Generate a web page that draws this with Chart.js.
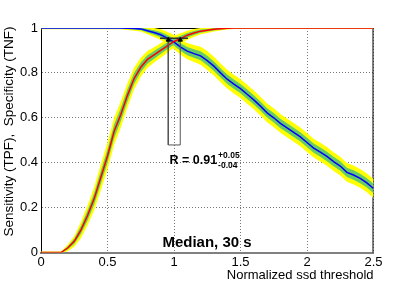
<!DOCTYPE html>
<html>
<head>
<meta charset="utf-8">
<script src="https://cdn.jsdelivr.net/npm/chart.js@4.4.0/dist/chart.umd.min.js"></script>
<style>
html,body{margin:0;padding:0;background:#fff}
#c{display:block}
</style>
</head>
<body>
<canvas id="c" width="415" height="281"></canvas>
<script>
// thresholds (x) and curves
const thresholds = [0,0.05,0.1,0.15,0.2,0.25,0.3,0.35,0.4,0.45,0.5,0.55,0.6,0.65,0.7,0.75,0.8,0.85,0.9,0.95,
  1,1.05,1.1,1.15,1.2,1.25,1.3,1.35,1.4,1.45,1.5,1.55,1.6,1.65,1.7,1.75,1.8,1.85,1.9,1.95,
  2,2.05,2.1,2.15,2.2,2.25,2.3,2.35,2.4,2.45,2.5];

const sensitivity = [0,0,0,0,0.02,0.05,0.10,0.165,0.24,0.335,0.43,0.54,0.615,0.70,0.775,0.825,0.86,0.88,0.90,0.92,
  0.94,0.953,0.968,0.978,0.986,0.99,0.994,0.997,0.999,1,1,1,1,1,1,1,1,1,1,1,
  1,1,1,1,1,1,1,1,1,1,1];
const sensErr = [0.002,0.002,0.002,0.002,0.007,0.012,0.018,0.022,0.026,0.029,0.03,0.03,0.029,0.027,0.024,0.021,0.019,0.017,0.016,0.015,
  0.013,0.012,0.01,0.009,0.007,0.006,0.005,0.004,0.003,0.002,0.002,0.002,0.002,0.002,0.002,0.002,0.002,0.002,0.002,0.002,
  0.002,0.002,0.002,0.002,0.002,0.002,0.002,0.002,0.002,0.002,0.002];

const specificity = [1,1,1,1,1,1,1,1,1,1,1,1,1,0.999,0.998,0.996,0.988,0.98,0.97,0.955,
  0.937,0.915,0.897,0.886,0.876,0.855,0.83,0.80,0.772,0.75,0.73,0.705,0.68,0.652,0.622,0.60,0.575,0.555,0.535,0.515,
  0.49,0.465,0.447,0.428,0.405,0.385,0.357,0.345,0.33,0.31,0.285];
const specErr = [0.003,0.003,0.003,0.003,0.003,0.003,0.003,0.003,0.003,0.003,0.003,0.003,0.003,0.004,0.005,0.006,0.008,0.01,0.012,0.014,
  0.016,0.017,0.018,0.019,0.02,0.021,0.021,0.021,0.021,0.021,0.021,0.021,0.021,0.021,0.021,0.021,0.021,0.021,0.021,0.021,
  0.021,0.021,0.021,0.021,0.021,0.021,0.021,0.021,0.021,0.021,0.021];

// crossing point: threshold range bar, markers, and the box below
const crossBarX = [0.895, 1.105];
const crossBarY = [0.954, 0.954];
const markX = [0.957, 1.047];
const markY = [0.947, 0.947];
const boxX = [0.957, 0.957, 1.047, 1.047];
const boxY = [0.947, 0.479, 0.479, 0.947];

const xTicks = [0, 0.5, 1, 1.5, 2, 2.5];
const yTicks = [0, 0.2, 0.4, 0.6, 0.8, 1];

const yTitle = "Sensitivity (TPF),  Specificity (TNF)";
const xTitle = "Normalized ssd threshold";
const label = "Median, 30 s";

const FONT = '"Liberation Sans", Arial, Helvetica, sans-serif';

function pts(xs, ys) { return xs.map((x, i) => ({x: x, y: ys[i]})); }
function band(ys, err, k) { return thresholds.map((x, i) => ({x: x, y: ys[i] + k * err[i]})); }

function bandPair(ys, err, k, color, order) {
    return [
        {data: band(ys, err, k), fill: '+1', backgroundColor: color, borderColor: 'transparent', borderWidth: 0, pointRadius: 0, order: order},
        {data: band(ys, err, -k), fill: false, borderColor: 'transparent', borderWidth: 0, pointRadius: 0, order: order}
    ];
}

const overlay = {
    id: 'overlay',
    beforeDatasetsDraw(chart) {
        const {ctx, chartArea: a} = chart;
        ctx.save();
        ctx.strokeStyle = '#000';
        ctx.lineWidth = 1;
        ctx.beginPath();
        ctx.moveTo(a.left, a.top + 0.5); ctx.lineTo(a.right, a.top + 0.5);
        ctx.moveTo(a.right - 0.5, a.top); ctx.lineTo(a.right - 0.5, a.bottom);
        ctx.stroke();
        ctx.restore();
    },
    afterDraw(chart) {
        const {ctx, chartArea: a} = chart;
        ctx.save();
        ctx.fillStyle = '#000';
        ctx.font = '13.5px ' + FONT;
        ctx.textAlign = 'center';
        ctx.textBaseline = 'middle';
        ctx.translate(9, 131.5);
        ctx.rotate(-Math.PI / 2);
        ctx.fillText(yTitle, 0, 0);
        ctx.restore();

        ctx.save();
        ctx.fillStyle = '#000';
        ctx.textBaseline = 'alphabetic';
        ctx.font = '13px ' + FONT;
        ctx.textAlign = 'right';
        ctx.fillText(xTitle, a.right, 279);

        ctx.font = 'bold 15px ' + FONT;
        ctx.textAlign = 'center';
        ctx.fillText(label, 207, 246.5);

        ctx.textAlign = 'left';
        ctx.font = 'bold 12.5px ' + FONT;
        const r = 'R = 0.91';
        ctx.fillText(r, 169.5, 164);
        const w = ctx.measureText(r).width;
        ctx.font = 'bold 8.5px ' + FONT;
        ctx.fillText('+0.05', 169.5 + w + 1, 157.5);
        ctx.fillText('-0.04', 169.5 + w + 1, 167.5);
        ctx.restore();
    }
};

const datasets = [
    {data: pts(thresholds, sensitivity), borderColor: '#ff0000', borderWidth: 1.5, pointRadius: 0, fill: false, order: 0},
    {data: pts(thresholds, specificity), borderColor: '#0000ff', borderWidth: 1.5, pointRadius: 0, fill: false, order: 1},
    {data: pts(crossBarX, crossBarY), borderColor: '#333', borderWidth: 1.5, pointRadius: 0, fill: false, order: -1},
    {data: pts(boxX, boxY), borderColor: '#555', borderWidth: 1, pointRadius: 0, fill: false, order: -1},
    {data: pts(markX, markY), showLine: false, pointStyle: 'triangle', pointRadius: 2.5, backgroundColor: '#000', borderColor: '#000', borderWidth: 1, order: -2},
    ...bandPair(specificity, specErr, 1, '#66cc66', 3),
    ...bandPair(sensitivity, sensErr, 1, '#66cc66', 3),
    ...bandPair(specificity, specErr, 2, '#ffff00', 5),
    ...bandPair(sensitivity, sensErr, 2, '#ffff00', 5)
];

new Chart(document.getElementById('c'), {
    type: 'line',
    data: {datasets: datasets},
    options: {
        responsive: false,
        animation: false,
        devicePixelRatio: 1,
        layout: {padding: {top: 28, right: 41.5, left: 0, bottom: 0}},
        plugins: {legend: {display: false}, tooltip: {enabled: false}},
        elements: {line: {tension: 0}},
        scales: {
            x: {
                type: 'linear', min: 0, max: 2.5,
                afterBuildTicks: s => { s.ticks = xTicks.map(v => ({value: v})); },
                afterFit: s => { s.height = 28.5; },
                ticks: {color: '#000', font: {family: FONT, size: 13}, padding: 2, maxRotation: 0, callback: v => String(v)},
                grid: {color: '#777', lineWidth: 1, drawTicks: false},
                border: {color: '#808080', width: 2, dash: [1, 2]}
            },
            y: {
                min: 0, max: 1,
                afterBuildTicks: s => { s.ticks = yTicks.map(v => ({value: v})); },
                afterFit: s => { s.width = 41; },
                ticks: {color: '#000', font: {family: FONT, size: 13}, padding: 3, callback: v => String(v)},
                grid: {color: '#777', lineWidth: 1, drawTicks: false},
                border: {color: '#000', width: 1, dash: [1, 2]}
            }
        }
    },
    plugins: [overlay]
});
</script>
</body>
</html>
